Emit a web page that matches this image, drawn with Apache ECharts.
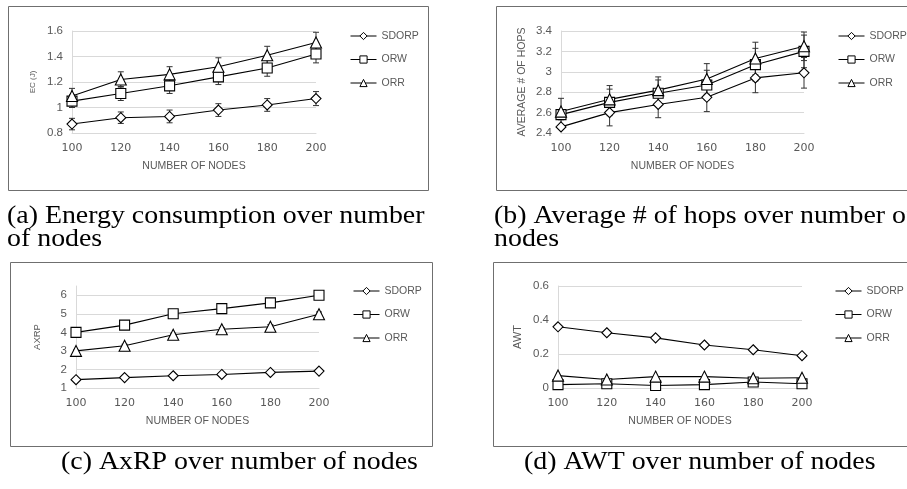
<!DOCTYPE html>
<html>
<head>
<meta charset="utf-8">
<title>SDORP / ORW / ORR</title>
<script src="https://cdn.jsdelivr.net/npm/echarts@6/dist/echarts.min.js"></script>
<style>
  html,body{margin:0;padding:0;background:#fff;}
  #main{width:907px;height:489px;}
</style>
</head>
<body>
<div id="main"></div>
<script>
// x categories shared by all four panels
var nodes = ['100', '120', '140', '160', '180', '200'];
var names = ['SDORP', 'ORW', 'ORR'];

// (a) energy consumption
var ecSDORP = [0.87, 0.92, 0.93, 0.98, 1.02, 1.07];
var ecORW   = [1.05, 1.11, 1.17, 1.24, 1.31, 1.42];
var ecORR   = [1.09, 1.22, 1.26, 1.32, 1.41, 1.51];
var ecSDORPErr = [0.045, 0.045, 0.05, 0.05, 0.05, 0.055];
var ecORWErr   = [0.05, 0.055, 0.06, 0.06, 0.065, 0.07];
var ecORRErr   = [0.06, 0.06, 0.06, 0.07, 0.07, 0.08];

// (b) average # of hops
var hopsSDORP = [2.46, 2.60, 2.68, 2.75, 2.94, 2.99];
var hopsORW   = [2.58, 2.70, 2.79, 2.87, 3.07, 3.20];
var hopsORR   = [2.61, 2.73, 2.82, 2.93, 3.13, 3.25];
var hopsSDORPErr = [0.02, 0.13, 0.13, 0.14, 0.145, 0.15];
var hopsORWErr   = [0.05, 0.13, 0.13, 0.145, 0.16, 0.16];
var hopsORRErr   = [0.13, 0.135, 0.13, 0.15, 0.16, 0.14];

// (c) AxRP
var axrpSDORP = [1.45, 1.56, 1.66, 1.73, 1.84, 1.91];
var axrpORW   = [4.0, 4.39, 5.0, 5.28, 5.59, 6.0];
var axrpORR   = [3.0, 3.28, 3.87, 4.17, 4.3, 4.98];
var axrpSDORPErr = [0.03, 0.03, 0.03, 0.03, 0.03, 0.03];
var axrpORWErr   = [0.05, 0.05, 0.05, 0.05, 0.08, 0.12];
var axrpORRErr   = [0.05, 0.08, 0.08, 0.08, 0.12, 0.12];

// (d) AWT
var awtSDORP = [0.36, 0.325, 0.295, 0.253, 0.225, 0.19];
var awtORW   = [0.02, 0.025, 0.015, 0.02, 0.035, 0.025];
var awtORR   = [0.073, 0.05, 0.067, 0.067, 0.057, 0.06];

var gray = '#595959';
var symbols = {SDORP: ['diamond', 10], ORW: ['rect', 10], ORR: ['triangle', 11]};

function lineSeries(name, idx, data){
	return {
		name: name,
		type: 'line',
		xAxisIndex: idx,
		yAxisIndex: idx,
		data: data,
		symbol: symbols[name][0],
		symbolSize: symbols[name][1],
		showAllSymbol: true,
		lineStyle: {color: '#000', width: 1.1},
		itemStyle: {color: '#fff', borderColor: '#000', borderWidth: 1.1},
		z: 3
	};
}

function errSeries(idx, data, err){
	return {
		type: 'custom',
		xAxisIndex: idx,
		yAxisIndex: idx,
		silent: true,
		z: 2,
		data: data.map(function(v, i){ return [i, v, err[i]]; }),
		encode: {x: 0, y: 1},
		renderItem: function(params, api){
			var i = api.value(0), v = api.value(1), e = api.value(2);
			var hi = api.coord([i, v + e]);
			var lo = api.coord([i, v - e]);
			var w = 3;
			var st = {stroke: '#333', lineWidth: 1};
			return {
				type: 'group',
				children: [
					{type: 'line', shape: {x1: hi[0], y1: hi[1], x2: lo[0], y2: lo[1]}, style: st},
					{type: 'line', shape: {x1: hi[0] - w, y1: hi[1], x2: hi[0] + w, y2: hi[1]}, style: st},
					{type: 'line', shape: {x1: lo[0] - w, y1: lo[1], x2: lo[0] + w, y2: lo[1]}, style: st}
				]
			};
		}
	};
}

var grids = [
	{left: 72, top: 31, width: 244, height: 102},
	{left: 561, top: 31, width: 243, height: 102},
	{left: 76, top: 286, width: 243, height: 102},
	{left: 558, top: 286, width: 244, height: 102}
];

var xAxes = grids.map(function(g, i){
	return {
		type: 'category',
		gridIndex: i,
		data: nodes,
		boundaryGap: false,
		axisTick: {show: false},
		axisLine: {lineStyle: {color: '#d9d9d9'}},
		axisLabel: {color: gray, fontFamily: 'DejaVu Sans', fontSize: 11, margin: 10},
		name: 'NUMBER OF NODES',
		nameLocation: 'middle',
		nameGap: 28,
		nameTextStyle: {color: gray, fontFamily: 'Liberation Sans', fontSize: 10.5}
	};
});

var yCfg = [
	{min: 0.8, max: 1.6, interval: 0.2, name: 'EC (J)', size: 8, gap: 35},
	{min: 2.4, max: 3.4, interval: 0.2, name: 'AVERAGE # OF HOPS', size: 10.5, gap: 33},
	{min: 1, max: 6.5, interval: 1, name: 'AXRP', size: 9.5, gap: 34},
	{min: 0, max: 0.6, interval: 0.2, name: 'AWT', size: 11, gap: 35}
];

var yAxes = yCfg.map(function(c, i){
	return {
		type: 'value',
		gridIndex: i,
		min: c.min,
		max: c.max,
		interval: c.interval,
		axisLine: {show: true, lineStyle: {color: '#d9d9d9'}},
		axisTick: {show: false},
		splitLine: {lineStyle: {color: '#d9d9d9'}, showMaxLine: i != 2},
		axisLabel: {color: gray, fontFamily: 'Liberation Sans', fontSize: 11.5, margin: 9, showMaxLabel: i != 2},
		name: c.name,
		nameLocation: 'middle',
		nameRotate: 90,
		nameGap: c.gap,
		nameTextStyle: {color: gray, fontFamily: 'Liberation Sans', fontSize: c.size}
	};
});

var legendPos = [[350, 30.5], [838, 30.5], [353, 285.5], [835, 285.5]];
var legends = legendPos.map(function(p){
	return {
		left: p[0], top: p[1],
		padding: 0,
		orient: 'vertical',
		itemWidth: 26, itemHeight: 9, itemGap: 12.5,
		selectedMode: false,
		data: names,
		lineStyle: {width: 1},
		itemStyle: {borderWidth: 1},
		textStyle: {color: gray, fontFamily: 'Liberation Sans', fontSize: 10.5}
	};
});

var series = [
	errSeries(0, ecSDORP, ecSDORPErr), errSeries(0, ecORW, ecORWErr), errSeries(0, ecORR, ecORRErr),
	lineSeries('SDORP', 0, ecSDORP), lineSeries('ORW', 0, ecORW), lineSeries('ORR', 0, ecORR),
	errSeries(1, hopsSDORP, hopsSDORPErr), errSeries(1, hopsORW, hopsORWErr), errSeries(1, hopsORR, hopsORRErr),
	lineSeries('SDORP', 1, hopsSDORP), lineSeries('ORW', 1, hopsORW), lineSeries('ORR', 1, hopsORR),
	errSeries(2, axrpSDORP, axrpSDORPErr), errSeries(2, axrpORW, axrpORWErr), errSeries(2, axrpORR, axrpORRErr),
	lineSeries('SDORP', 2, axrpSDORP), lineSeries('ORW', 2, axrpORW), lineSeries('ORR', 2, axrpORR),
	lineSeries('SDORP', 3, awtSDORP), lineSeries('ORW', 3, awtORW), lineSeries('ORR', 3, awtORR)
];

var boxStyle = {fill: 'none', stroke: '#6f6f6f', lineWidth: 1};
var capFont = {fill: '#000', fontFamily: 'Liberation Serif', fontSize: 25, lineHeight: 23};

function caption(x, y, text){
	return {type: 'text', x: x, y: y, scaleX: 1.115, silent: true,
		style: Object.assign({text: text}, capFont)};
}

var chart = echarts.init(document.getElementById('main'));
chart.setOption({
	animation: false,
	backgroundColor: '#fff',
	grid: grids,
	xAxis: xAxes,
	yAxis: yAxes,
	legend: legends,
	series: series,
	graphic: [
		{type: 'rect', shape: {x: 8.5, y: 6.5, width: 420, height: 184}, style: boxStyle, silent: true},
		{type: 'rect', shape: {x: 496.5, y: 6.5, width: 420, height: 184}, style: boxStyle, silent: true},
		{type: 'rect', shape: {x: 10.5, y: 262.5, width: 422, height: 184}, style: boxStyle, silent: true},
		{type: 'rect', shape: {x: 493.5, y: 262.5, width: 420, height: 184}, style: boxStyle, silent: true},
		caption(7, 205, '(a) Energy consumption over number\nof nodes'),
		caption(494, 205, '(b) Average # of hops over number of\nnodes'),
		caption(61, 451, '(c) AxRP over number of nodes'),
		caption(524, 451, '(d) AWT over number of nodes')
	]
});
</script>
</body>
</html>
